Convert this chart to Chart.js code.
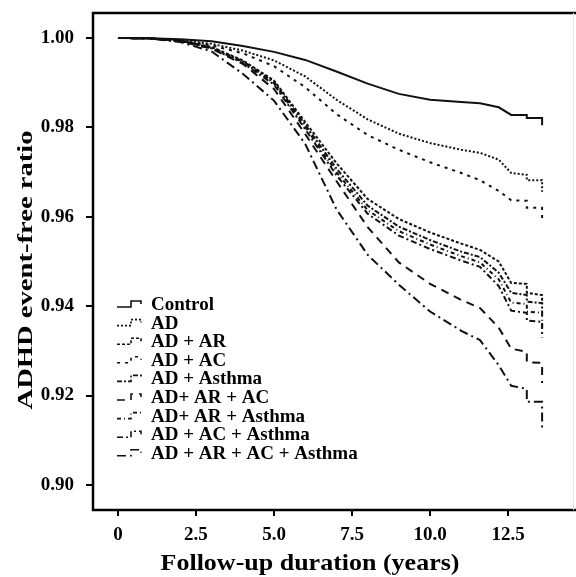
<!DOCTYPE html>
<html>
<head>
<meta charset="utf-8">
<script src="https://cdn.jsdelivr.net/npm/chart.js@4.4.0/dist/chart.umd.min.js"></script>
<style>
  html, body { margin: 0; padding: 0; background: #fff; }
  #wrap { width: 576px; height: 577px; }
</style>
</head>
<body>
<div id="wrap"><canvas id="km" width="576" height="577"></canvas></div>
<script>
// follow-up time grid (years); repeated times are the steps at the end
const years = [0, 1, 2, 3, 4, 5, 6, 7, 8, 9, 10, 11, 11.6, 12.2, 12.6, 13.1, 13.1, 13.59, 13.59];

// event-free ratio per group
const control      = [1, 0.99995, 0.9997, 0.9993, 0.9982, 0.9969, 0.9951, 0.9925, 0.9898, 0.9875, 0.9862, 0.9857, 0.9854, 0.9845, 0.9828, 0.9828, 0.9821, 0.9821, 0.9805];
const ad           = [1, 0.99995, 0.9995, 0.9987, 0.9972, 0.9950, 0.9914, 0.9862, 0.9818, 0.9786, 0.9765, 0.9750, 0.9743, 0.9728, 0.9698, 0.9694, 0.9682, 0.9682, 0.9656];
const adAr         = [1, 0.99995, 0.9994, 0.9980, 0.9950, 0.9905, 0.9812, 0.9720, 0.9640, 0.9595, 0.9565, 0.9540, 0.9526, 0.9500, 0.9452, 0.9450, 0.9430, 0.9425, 0.9405];
const adAc         = [1, 0.99995, 0.9994, 0.9984, 0.9966, 0.9937, 0.9890, 0.9830, 0.9783, 0.9750, 0.9722, 0.9698, 0.9682, 0.9658, 0.9637, 0.9636, 0.9620, 0.9620, 0.9593];
const adAsthma     = [1, 0.99995, 0.9994, 0.9979, 0.9948, 0.9902, 0.9806, 0.9708, 0.9625, 0.9578, 0.9548, 0.9522, 0.9510, 0.9475, 0.9430, 0.9425, 0.9410, 0.9407, 0.9385];
const adArAc       = [1, 0.99995, 0.9993, 0.9976, 0.9942, 0.9886, 0.9785, 0.9680, 0.9577, 0.9498, 0.9450, 0.9414, 0.9396, 0.9352, 0.9305, 0.9298, 0.9275, 0.9273, 0.9228];
const adArAsthma   = [1, 0.99995, 0.9994, 0.9978, 0.9946, 0.9899, 0.9801, 0.9700, 0.9615, 0.9568, 0.9538, 0.9512, 0.9498, 0.9460, 0.9408, 0.9405, 0.9388, 0.9385, 0.9350];
const adAcAsthma   = [1, 0.99995, 0.9993, 0.9977, 0.9944, 0.9896, 0.9796, 0.9693, 0.9607, 0.9558, 0.9528, 0.9502, 0.9488, 0.9445, 0.9390, 0.9385, 0.9368, 0.9365, 0.9330];
const adArAcAsthma = [1, 0.99993, 0.9991, 0.9970, 0.9920, 0.9860, 0.9763, 0.9617, 0.9515, 0.9448, 0.9388, 0.9345, 0.9324, 0.9268, 0.9222, 0.9215, 0.9186, 0.9186, 0.9128];

const groups = ["Control", "AD", "AD + AR", "AD + AC", "AD + Asthma", "AD+ AR + AC", "AD+ AR + Asthma", "AD + AC + Asthma", "AD + AR + AC + Asthma"];
const series = [control, ad, adAr, adAc, adAsthma, adArAc, adArAsthma, adAcAsthma, adArAcAsthma];

const xTicks = [0, 2.5, 5, 7.5, 10, 12.5];
const yTicks = [0.90, 0.92, 0.94, 0.96, 0.98, 1.00];

// line styles, same order as groups
const dashes = [[], [2, 2], [3, 2], [3, 5], [5, 2, 2, 2], [8, 6], [4, 3, 1, 3], [6, 3, 2, 3], [9, 4, 2, 4]];

const FONT = "'Liberation Serif', 'Times New Roman', serif";
const INK = "#111";

const datasets = series.map((vals, i) => ({
  label: groups[i],
  data: years.map((t, j) => ({ x: t, y: vals[j] })),
  borderColor: INK,
  borderWidth: 2,
  borderDash: dashes[i],
  pointRadius: 0,
  tension: 0,
  fill: false
}));

// no extra room for edge labels, the frame is placed by hand
function noEdgePadding(s) {
  s.paddingTop = 0; s.paddingBottom = 0;
  s.paddingLeft = 0; s.paddingRight = 0;
}

// box round the plot: heavy top/left/bottom, faint right edge
const framePlugin = {
  id: "frame",
  afterDraw(chart) {
    const { ctx, chartArea: a, width } = chart;
    ctx.save();
    ctx.strokeStyle = "#000";
    ctx.lineWidth = 2.5;
    ctx.beginPath();
    ctx.moveTo(width, a.top); ctx.lineTo(a.left, a.top);
    ctx.lineTo(a.left, a.bottom); ctx.lineTo(width, a.bottom);
    ctx.stroke();
    ctx.strokeStyle = "#e4e4e4";
    ctx.lineWidth = 1;
    ctx.beginPath();
    ctx.moveTo(a.right + 0.5, a.top); ctx.lineTo(a.right + 0.5, a.bottom);
    ctx.stroke();
    ctx.restore();
  }
};

// legend inside the plot, with small step glyphs
const legendPlugin = {
  id: "stepLegend",
  afterDraw(chart) {
    const { ctx } = chart;
    ctx.save();
    ctx.font = "bold 19px " + FONT;
    ctx.fillStyle = "#000";
    ctx.textBaseline = "middle";
    chart.data.datasets.forEach((ds, i) => {
      const y = 304 + i * 18.6;
      ctx.strokeStyle = INK;
      ctx.lineWidth = 1.6;
      ctx.setLineDash(ds.borderDash);
      ctx.beginPath();
      ctx.moveTo(117, y + 3); ctx.lineTo(131, y + 3);
      ctx.lineTo(131, y - 3); ctx.lineTo(141, y - 3); ctx.lineTo(141, y);
      ctx.stroke();
      ctx.setLineDash([]);
      ctx.fillText(ds.label, 151, y + 1);
    });
    ctx.restore();
  }
};

// axis titles (the source figure is stretched, so the titles are too)
const titlePlugin = {
  id: "axisTitles",
  afterDraw(chart) {
    const { ctx } = chart;
    ctx.save();
    ctx.fillStyle = "#000";
    ctx.textAlign = "center";
    ctx.textBaseline = "middle";
    ctx.font = "bold 23px " + FONT;
    ctx.save();
    ctx.translate(310, 564);
    ctx.scale(1.13, 1);
    ctx.fillText("Follow-up duration (years)", 0, 0);
    ctx.restore();
    ctx.translate(26, 270);
    ctx.rotate(-Math.PI / 2);
    ctx.scale(1.3, 1);
    ctx.font = "bold 22px " + FONT;
    ctx.fillText("ADHD event-free ratio", 0, 0);
    ctx.restore();
  }
};

new Chart(document.getElementById("km"), {
  type: "line",
  data: { datasets },
  options: {
    responsive: false,
    animation: false,
    layout: { padding: { top: 13, right: 3, left: 0, bottom: 0 } },
    plugins: { legend: { display: false }, tooltip: { enabled: false } },
    scales: {
      x: {
        type: "linear",
        min: -0.8,
        max: 14.58,
        afterBuildTicks: s => { s.ticks = xTicks.map(v => ({ value: v })); },
        afterFit: s => { s.height = 67; noEdgePadding(s); },
        border: { display: false },
        grid: { drawOnChartArea: false, drawTicks: true, tickLength: 6, color: "#000", lineWidth: 2 },
        ticks: {
          color: "#000",
          padding: 8,
          maxRotation: 0,
          font: { family: FONT, size: 19, weight: "bold" },
          callback: v => (v === 0 ? "0" : v.toFixed(1))
        }
      },
      y: {
        min: 0.8944,
        max: 1.0056,
        afterBuildTicks: s => { s.ticks = yTicks.map(v => ({ value: v })); },
        afterFit: s => { s.width = 93; noEdgePadding(s); },
        border: { display: false },
        grid: { drawOnChartArea: false, drawTicks: true, tickLength: 7, color: "#000", lineWidth: 2 },
        ticks: {
          color: "#000",
          padding: 12,
          font: { family: FONT, size: 19, weight: "bold" },
          callback: v => v.toFixed(2)
        }
      }
    }
  },
  plugins: [framePlugin, legendPlugin, titlePlugin]
});
</script>
</body>
</html>
